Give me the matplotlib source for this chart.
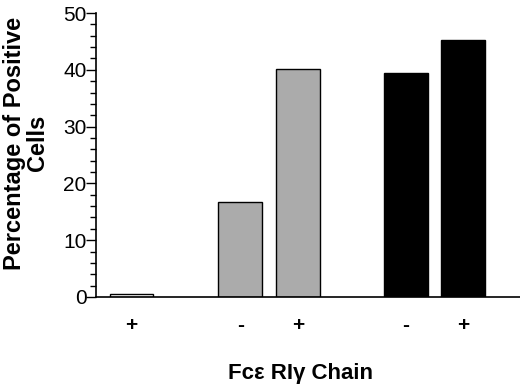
import matplotlib.pyplot as plt
from matplotlib.ticker import MultipleLocator

plt.rcParams['font.family'] = ['Liberation Sans', 'DejaVu Sans']

# Data
tick_labels = ["+", "-", "+", "-", "+"]
values = [0.5, 16.8, 40.1, 39.4, 45.2]
colors = ["white", "#ababab", "#ababab", "black", "black"]

# Bar positions (three groups)
positions = [0, 1.89, 2.89, 4.77, 5.77]

fig = plt.figure(figsize=(5.2, 3.87), dpi=100)
ax = fig.add_axes([0.185, 0.2326, 0.815, 0.7338])

ax.bar(positions, values, width=0.76, color=colors, edgecolor="black", linewidth=1.0)

ax.set_ylim(0, 50)
ax.set_xlim(-0.617, 6.757)
ax.yaxis.set_major_locator(MultipleLocator(10))
ax.yaxis.set_minor_locator(MultipleLocator(2))

ax.spines["top"].set_visible(False)
ax.spines["right"].set_visible(False)
ax.spines["left"].set_linewidth(1.2)
ax.spines["bottom"].set_linewidth(1.2)

ax.tick_params(axis="y", which="major", length=7, width=1.0, labelsize=15, pad=0)
ax.tick_params(axis="y", which="minor", length=4, width=1.0)
ax.set_xticks(positions)
ax.set_xticklabels(tick_labels, fontsize=15, fontweight="bold")
ax.tick_params(axis="x", length=0, pad=14)

fig.text(0.577, 0.036, "Fc\u03b5 RI\u03b3 Chain", fontsize=16, fontweight="bold",
         ha="center", va="center")
fig.text(0.05, 0.63, "Percentage of Positive\nCells", fontsize=17, fontweight="bold",
         rotation=90, ha="center", va="center", multialignment="center",
         linespacing=1.0)

plt.savefig("out.png", dpi=100)
